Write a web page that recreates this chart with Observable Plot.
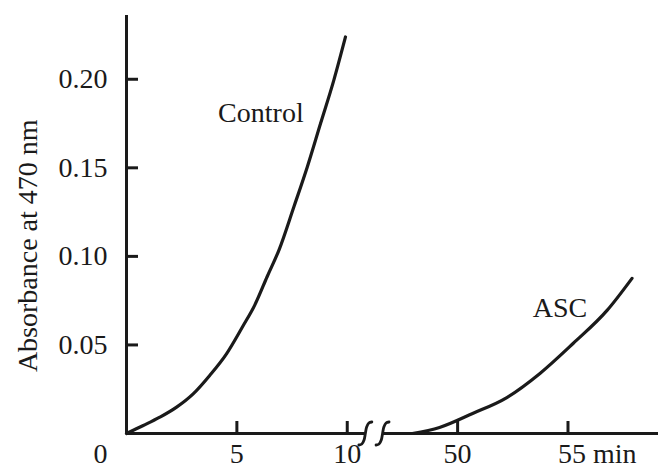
<!DOCTYPE html>
<html><head><meta charset="utf-8">
<script src="https://cdn.jsdelivr.net/npm/d3@7"></script>
<script src="https://cdn.jsdelivr.net/npm/@observablehq/plot@0.6"></script>
<style>
body{margin:0;background:#fff;}
#chart svg{display:block;}
#chart svg text{font-family:'Liberation Serif',serif !important;}
</style>
</head><body><div id="chart"></div>
<script>
// ---- data ----
const controlTime = [0, 0.76, 1.51, 2.27, 3.02, 3.77, 4.53, 5.29, 5.81, 6.37, 6.92, 7.58, 8.19, 8.79, 9.39, 9.92];
const controlAbs  = [0, 0.0045, 0.0092, 0.0149, 0.0224, 0.0328, 0.045, 0.061, 0.0725, 0.0885, 0.104, 0.1279, 0.1505, 0.175, 0.1994, 0.2239];
const ascTime = [47.95, 49.18, 50.68, 52.23, 53.73, 55.23, 56.77, 57.9];
const ascAbs  = [0, 0.0034, 0.0113, 0.0203, 0.0339, 0.0508, 0.0695, 0.0876];
const xTickValues = [0, 5, 10, 50, 55];
const xTickLabels = ["0", "5", "10", "50", "55 min"];
const yTickValues = [0.05, 0.10, 0.15, 0.20];
const yTickLabels = ["0.05", "0.10", "0.15", "0.20"];
const seriesLabels = [{name: "Control", t: 4.15, a: 0.181}, {name: "ASC", t: 53.4, a: 0.071}];
const breakMinutes = [10.82, 46.6];   // where the axis is broken (left / right side)
const yLabel = "Absorbance at 470 nm";

// ---- layout ----
const W = 659, H = 469;
const mL = 126, mR = 1, mT = 15, mB = 36;
const xMax = 24.1, yMax = 0.236;
const gap = 35;                                  // minutes removed by the break
const vx = t => (t > 30 ? t - gap : t);          // time -> drawn axis position
const kx = xMax / (W - mL - mR), ky = yMax / (H - mT - mB); // data units per pixel
const font = "'Liberation Serif', serif";
const ink = "#1a1a1a";

const control = controlTime.map((t, i) => ({x: vx(t), y: controlAbs[i]}));
const asc = ascTime.map((t, i) => ({x: vx(t), y: ascAbs[i]}));
const xTicks = xTickValues.map((t, i) => ({x: vx(t), label: xTickLabels[i], i}));
const yTicks = yTickValues.map((v, i) => ({y: v, label: yTickLabels[i]}));
const bx = breakMinutes.map(vx);
const axisSegs = [{x1: 0, x2: bx[0]}, {x1: bx[1], x2: xMax}];
const squigglePx = [[6.5,-11.5],[3.5,-10.5],[1.3,-6.5],[0,0],[-1.3,6.5],[-3.5,10.5],[-6.5,11.5]];
const squiggles = bx.flatMap((b, k) => squigglePx.map(([dx, dy]) => ({k, x: b + dx * kx, y: -dy * ky})));

const txt = {fontSize: 28, fill: ink, fontFamily: font};
const plot = Plot.plot({
  width: W, height: H,
  marginLeft: mL, marginRight: mR, marginTop: mT, marginBottom: mB,
  x: {domain: [0, xMax], axis: null},
  y: {domain: [0, yMax], axis: null},
  style: {background: "#fff", fontFamily: font},
  marks: [
    // y axis line
    Plot.ruleX([0], {y1: 0, y2: yMax, stroke: ink, strokeWidth: 3}),
    // broken x axis line
    Plot.ruleY(axisSegs, {y: 0, x1: "x1", x2: "x2", stroke: ink, strokeWidth: 3}),
    // inward ticks
    Plot.ruleX(xTicks.filter(d => d.x > 0), {x: "x", y1: 0, y2: 12 * ky, stroke: ink, strokeWidth: 3}),
    Plot.ruleY(yTicks, {y: "y", x1: 0, x2: 12 * kx, stroke: ink, strokeWidth: 3}),
    // break marks
    Plot.line(squiggles, {x: "x", y: "y", z: "k", curve: "catmull-rom", stroke: ink, strokeWidth: 2.8}),
    // tick labels
    Plot.text(xTicks.filter(d => d.i === 0), {x: "x", y: 0, text: "label", dy: 21, dx: -26, ...txt}),
    Plot.text(xTicks.filter(d => d.i > 0 && d.i < 4), {x: "x", y: 0, text: "label", dy: 21, ...txt}),
    Plot.text(xTicks.filter(d => d.i === 4), {x: "x", y: 0, text: "label", dy: 21, dx: -10, textAnchor: "start", ...txt}),
    Plot.text(yTicks, {x: 0, y: "y", text: "label", dx: -19, textAnchor: "end", ...txt}),
    // y title
    Plot.text([yLabel], {x: 0, y: [0.106], text: d => d, dx: -98, rotate: -90, ...txt}),
    // curves
    Plot.line(control, {x: "x", y: "y", curve: "monotone-x", stroke: ink, strokeWidth: 3.2}),
    Plot.line(asc, {x: "x", y: "y", curve: "monotone-x", stroke: ink, strokeWidth: 3.2}),
    // series labels
    Plot.text(seriesLabels, {x: d => vx(d.t), y: "a", text: "name", textAnchor: "start", ...txt})
  ]
});
document.getElementById("chart").appendChild(plot);
</script>
</body></html>
